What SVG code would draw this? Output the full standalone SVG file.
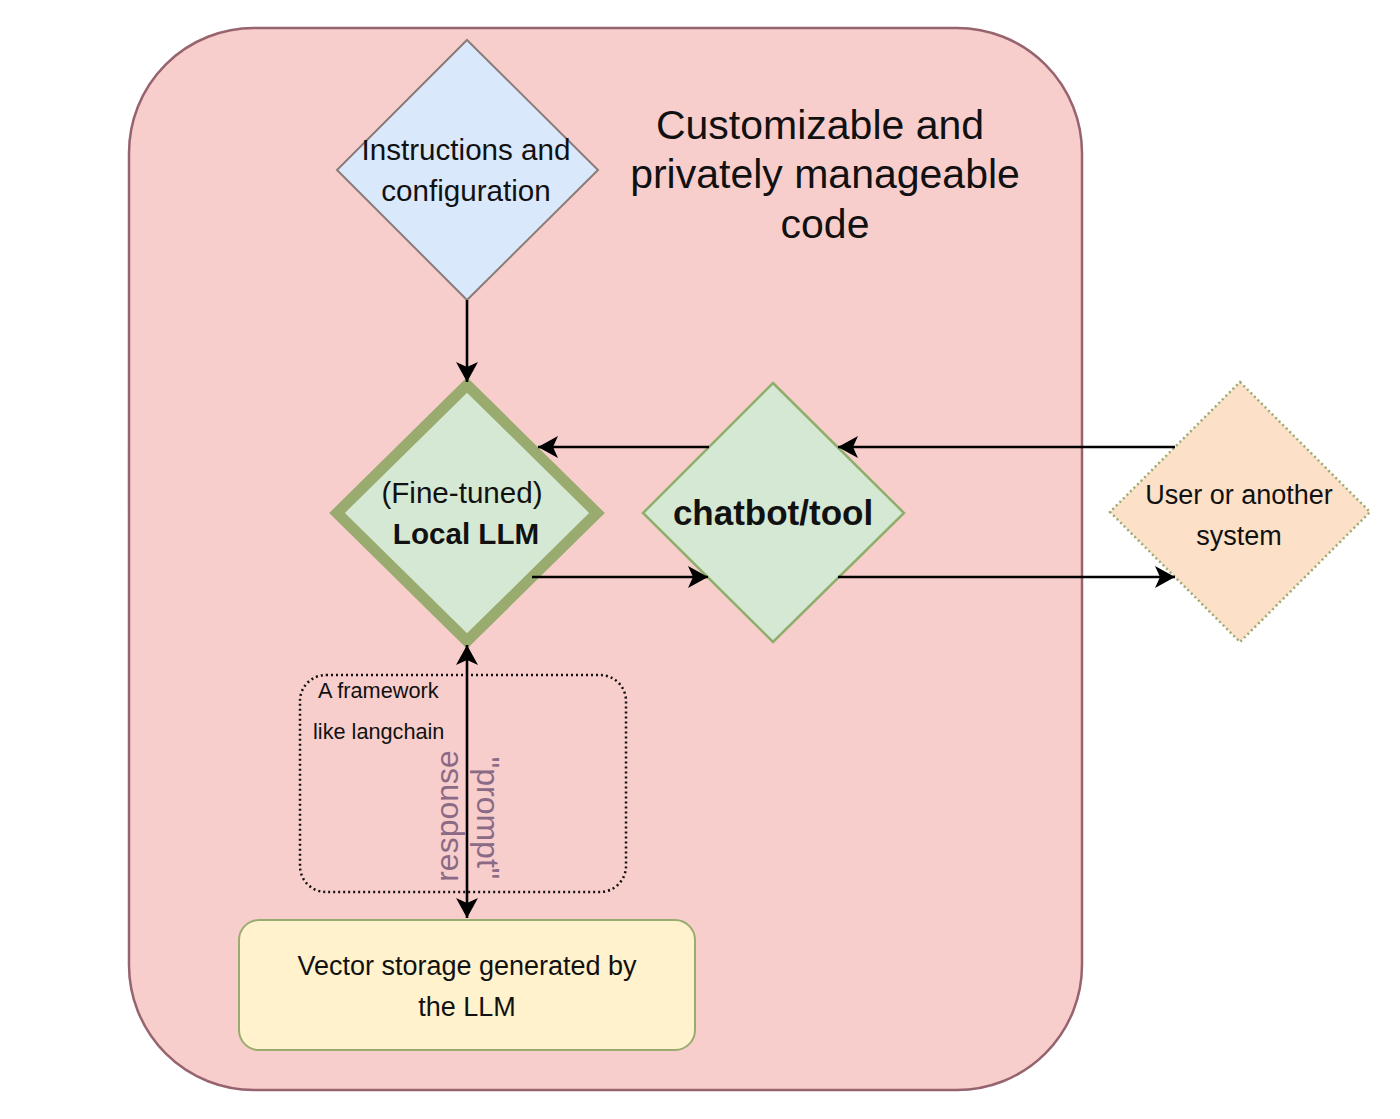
<svg xmlns="http://www.w3.org/2000/svg" width="1400" height="1119" viewBox="0 0 1400 1119">
<defs>
<marker id="arr" markerUnits="userSpaceOnUse" markerWidth="26" markerHeight="26" viewBox="-1 -13 26 26" refX="20" refY="0" orient="auto-start-reverse">
<path d="M0,-11 L20,0 L0,11 L5,0 Z" fill="#000"/>
</marker>
</defs>
<style>
text{font-family:"Liberation Sans",Arial,sans-serif;fill:#111;}
.c{text-anchor:middle;}
.edge{fill:none;stroke:#000;stroke-width:2.6;}
.vert{fill:#8a6a85;font-size:32px;text-anchor:middle;}
</style>
<rect width="1400" height="1119" fill="#fff"/>
<g id="container">
<rect x="129" y="28" width="953" height="1062" rx="125" ry="125" fill="#f8cecc" stroke="#96636e" stroke-width="2.5"/>
<text class="c" x="820" y="139" font-size="41">Customizable and</text>
<text class="c" x="825" y="188" font-size="41">privately manageable</text>
<text class="c" x="825" y="238" font-size="41">code</text>
</g>
<g id="framework">
<rect x="300" y="675" width="326" height="217" rx="26" ry="26" fill="none" stroke="#111" stroke-width="2.5" stroke-dasharray="2,3"/>
<text x="318" y="698" font-size="21.7">A framework</text>
<text x="313" y="739" font-size="21.7">like langchain</text>
</g>
<g id="instructions">
<polygon points="467,40 598,170 467,300 337,170" fill="#dae8fc" stroke="#8a7c78" stroke-width="2"/>
<text class="c" x="466" y="160" font-size="29.6">Instructions and</text>
<text class="c" x="466" y="201" font-size="29.6">configuration</text>
</g>
<g id="local-llm">
<polygon points="467,385 597,513 467,641 337,513" fill="#d5e8d4" stroke="#9aab70" stroke-width="11"/>
<text class="c" x="462" y="503" font-size="29.6">(Fine-tuned)</text>
<text class="c" x="466" y="544" font-size="29.6" font-weight="bold">Local LLM</text>
</g>
<g id="chatbot">
<polygon points="773,383 904,513 773,642 643,513" fill="#d5e8d4" stroke="#8fae6c" stroke-width="2.5"/>
<text class="c" x="773" y="525" font-size="35" font-weight="bold">chatbot/tool</text>
</g>
<g id="user">
<polygon points="1240,382 1370,512 1240,642 1110,512" fill="#fde0c8" stroke="#9aab70" stroke-width="2.5" stroke-dasharray="2,3"/>
<text class="c" x="1239" y="504" font-size="27">User or another</text>
<text class="c" x="1239" y="545" font-size="27">system</text>
</g>
<g id="vector-storage">
<rect x="239" y="920" width="456" height="130" rx="20" ry="20" fill="#fff2cc" stroke="#9aab70" stroke-width="2"/>
<text class="c" x="467" y="975" font-size="27">Vector storage generated by</text>
<text class="c" x="467" y="1016" font-size="27">the LLM</text>
</g>
<g id="connectors">
<line class="edge" x1="467" y1="300" x2="467" y2="382" marker-end="url(#arr)"/>
<line class="edge" x1="709" y1="447" x2="538" y2="447" marker-end="url(#arr)"/>
<line class="edge" x1="1175" y1="447" x2="838" y2="447" marker-end="url(#arr)"/>
<line class="edge" x1="532" y1="577" x2="708" y2="577" marker-end="url(#arr)"/>
<line class="edge" x1="838" y1="577" x2="1175" y2="577" marker-end="url(#arr)"/>
<line class="edge" x1="467" y1="645" x2="467" y2="918" marker-start="url(#arr)" marker-end="url(#arr)"/>
<text class="vert" transform="translate(458,816) rotate(-90)">response</text>
<text class="vert" transform="translate(477,818) rotate(90)">"prompt"</text>
</g>
</svg>
